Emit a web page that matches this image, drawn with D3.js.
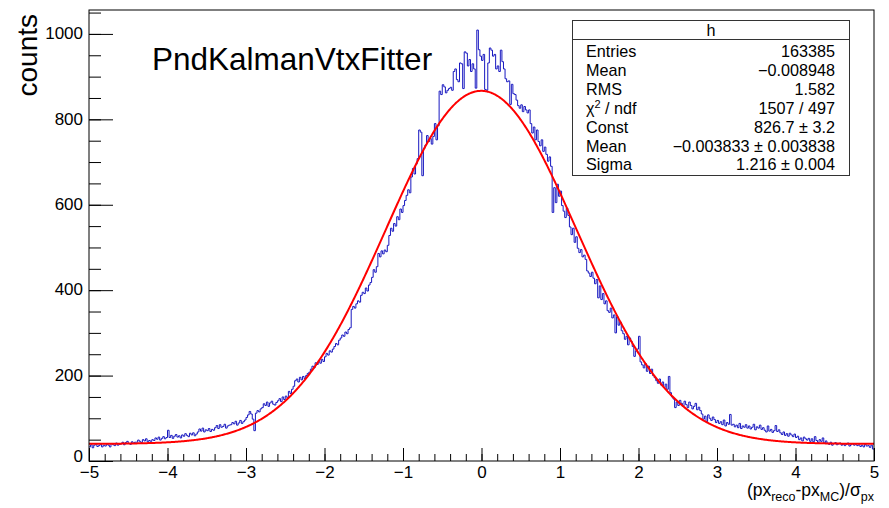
<!DOCTYPE html>
<html>
<head>
<meta charset="utf-8">
<script src="https://cdn.jsdelivr.net/npm/d3@7/dist/d3.min.js"></script>
<style>
  html, body { margin: 0; padding: 0; background: #fff; }
  svg { display: block; font-family: "Liberation Sans", Arial, Helvetica, sans-serif; }
</style>
</head>
<body>
<svg id="chart" width="889" height="508"></svg>
<script>
// Histogram "h": 500 bins from -5 to 5, one row per 0.2 in x
const xRange = [-5, 5];
const counts = [
  33, 38, 31, 37, 40, 34, 36, 39, 33, 37,      // -5.0
  35, 40, 37, 33, 41, 38, 36, 42, 37, 39,      // -4.8
  40, 44, 38, 43, 46, 41, 39, 45, 42, 44,      // -4.6
  44, 49, 46, 43, 50, 47, 52, 45, 48, 46,      // -4.4
  50, 48, 54, 51, 56, 49, 53, 57, 52, 55,      // -4.2
  72, 55, 60, 53, 58, 62, 56, 59, 54, 61,      // -4.0
  58, 64, 60, 57, 65, 61, 66, 59, 63, 68,      // -3.8
  75, 70, 77, 68, 73, 71, 76, 69, 74, 72,      // -3.6
  78, 83, 76, 85, 79, 81, 86, 77, 82, 84,      // -3.4
  85, 90, 87, 93, 84, 89, 95, 88, 92, 96,      // -3.2
  102, 108, 116, 110, 98, 71, 112, 118, 115, 122,   // -3.0
  125, 134, 130, 138, 128, 136, 140, 133, 131, 137, // -2.8
  141, 146, 139, 150, 144, 152, 148, 163, 158, 168, // -2.6
  175, 188, 192, 185, 196, 190, 198, 193, 200, 205, // -2.4
  208, 215, 222, 218, 230, 226, 235, 229, 238, 233, // -2.2
  244, 252, 248, 258, 255, 262, 268, 275, 272, 283, // -2.0
  288, 295, 292, 302, 298, 308, 312, 355, 362, 358, // -1.8
  368, 375, 372, 388, 395, 392, 405, 398, 412, 418, // -1.6
  430, 448, 442, 455, 486, 478, 492, 485, 494, 490, // -1.4
  505, 528, 545, 538, 556, 550, 572, 565, 590, 582, // -1.2
  598, 610, 622, 635, 628, 665, 685, 672, 695, 708, // -1.0
  775, 770, 668, 732, 740, 762, 748, 755, 742, 760, // -0.8
  790, 752, 785, 866, 858, 881, 876, 862, 868, 872, // -0.6
  875, 868, 912, 918, 893, 888, 932, 930, 872, 958, // -0.4
  955, 925, 940, 912, 930, 918, 873, 1009, 963, 948, // -0.2
  938, 952, 870, 868, 932, 967, 962, 948, 952, 918, //  0.0
  925, 912, 962, 935, 918, 895, 888, 890, 835, 882, //  0.2
  860, 858, 845, 832, 826, 834, 818, 830, 822, 815, //  0.4
  822, 790, 768, 782, 752, 775, 748, 738, 752, 725, //  0.6
  735, 718, 702, 712, 690, 582, 640, 605, 648, 620, //  0.8
  632, 598, 585, 570, 592, 575, 548, 530, 545, 512, //  1.0
  525, 498, 488, 495, 478, 482, 472, 445, 440, 432, //  1.2
  442, 428, 415, 425, 382, 410, 378, 392, 368, 375, //  1.4
  352, 348, 358, 335, 342, 300, 338, 318, 325, 305, //  1.6
  298, 285, 292, 272, 288, 280, 268, 245, 258, 262, //  1.8
  292, 232, 225, 218, 228, 210, 222, 205, 215, 200, //  2.0
  195, 188, 182, 192, 178, 185, 172, 180, 168, 198, //  2.2
  160, 150, 145, 125, 138, 130, 142, 135, 128, 140, //  2.4
  132, 125, 138, 130, 122, 128, 135, 120, 126, 118, //  2.6
  110, 98, 105, 92, 108, 100, 95, 103, 97, 90,      //  2.8
  95, 88, 92, 85, 96, 82, 90, 86, 109, 84,          //  3.0
  86, 80, 84, 78, 88, 76, 82, 79, 85, 77,           //  3.2
  82, 75, 79, 86, 73, 80, 77, 84, 74, 78,           //  3.4
  72, 68, 82, 70, 74, 67, 71, 83, 69, 73,           //  3.6
  66, 62, 68, 60, 64, 58, 65, 61, 57, 63,           //  3.8
  55, 58, 50, 54, 47, 56, 52, 49, 53, 46,           //  4.0
  52, 45, 57, 48, 43, 50, 46, 54, 42, 47,           //  4.2
  42, 39, 44, 37, 41, 43, 38, 40, 42, 37,           //  4.4
  40, 36, 39, 42, 35, 38, 41, 37, 39, 36,           //  4.6
  38, 34, 37, 33, 39, 35, 36, 32, 37, 28            //  4.8
];

// Gaussian fit result (plus flat background level)
const fitNames  = ["Const", "Mean", "Sigma"];
const fitValues = [826.7, -0.003833, 1.216];
const fitErrors = ["3.2", "0.003838", "0.004"];
const fitBackground = 40;

// Statistics box rows
const statLabels = ["Entries", "Mean", "RMS", "χ2 / ndf", "Const", "Mean", "Sigma"];
const statTexts  = ["163385", "−0.008948", "1.582", "1507 / 497",
                    "826.7 ± 3.2", "−0.003833 ± 0.003838", "1.216 ± 0.004"];

// Axis ticks
const xMajorTicks = d3.range(-5, 5.001, 1);
const xMinorTicks = d3.range(-5, 5.001, 0.2);
const yMajorTicks = [0, 200, 400, 600, 800, 1000];
const yMinorTicks = d3.range(0, 1051, 50);
const yMax = 1056;

const svg = d3.select("#chart");
const frame = { left: 89, right: 874, top: 10, bottom: 461 };

const x = d3.scaleLinear().domain(xRange).range([frame.left, frame.right]);
const y = d3.scaleLinear().domain([0, yMax]).range([frame.bottom, frame.top]);

// Histogram outline as a step line
const binWidth = (xRange[1] - xRange[0]) / counts.length;
const steps = counts.map((c, i) => [xRange[0] + i * binWidth, c]);
steps.push([xRange[1], counts[counts.length - 1]]);

svg.append("path")
  .datum(steps)
  .attr("fill", "none")
  .attr("stroke", "#1818c0")
  .attr("stroke-width", 1)
  .attr("d", d3.line().x(d => x(d[0])).y(d => y(d[1])).curve(d3.curveStepAfter));

// Fitted curve
const [fConst, fMean, fSigma] = fitValues;
const curvePts = d3.range(xRange[0], xRange[1] + 1e-9, 0.01).map(v =>
  [v, fConst * Math.exp(-0.5 * Math.pow((v - fMean) / fSigma, 2)) + fitBackground]);

svg.append("path")
  .datum(curvePts)
  .attr("fill", "none")
  .attr("stroke", "#ff0000")
  .attr("stroke-width", 2)
  .attr("d", d3.line().x(d => x(d[0])).y(d => y(d[1])));

// Axes (ticks pointing into the frame)
const fmt = d3.format("");
const gx = svg.append("g").attr("transform", `translate(0,${frame.bottom})`);
gx.call(d3.axisBottom(x).tickValues(xMinorTicks).tickSizeInner(-7).tickSizeOuter(0).tickFormat(""));
gx.call(g => g.select(".domain").remove());
const gx2 = svg.append("g").attr("transform", `translate(0,${frame.bottom})`);
gx2.call(d3.axisBottom(x).tickValues(xMajorTicks).tickSizeInner(-13).tickSizeOuter(0).tickPadding(5).tickFormat(fmt));
gx2.call(g => g.select(".domain").remove());

const gy = svg.append("g").attr("transform", `translate(${frame.left},0)`);
gy.call(d3.axisLeft(y).tickValues(yMinorTicks).tickSizeInner(-12).tickSizeOuter(0).tickFormat(""));
gy.call(g => g.select(".domain").remove());
const gy2 = svg.append("g").attr("transform", `translate(${frame.left},0)`);
gy2.call(d3.axisLeft(y).tickValues(yMajorTicks).tickSizeInner(-24).tickSizeOuter(0).tickPadding(6).tickFormat(fmt));
gy2.call(g => g.select(".domain").remove());
// the zero label sits a little higher so it clears the x labels
gy2.selectAll(".tick text").attr("dy", d => d === 0 ? "0.05em" : "0.28em");

svg.selectAll(".tick line").attr("stroke", "#000").attr("stroke-width", 1);
svg.selectAll(".tick text")
  .attr("font-family", "'Liberation Sans', Arial, Helvetica, sans-serif")
  .attr("font-size", 17).attr("fill", "#000");

// Frame
svg.append("rect")
  .attr("x", frame.left).attr("y", frame.top)
  .attr("width", frame.right - frame.left).attr("height", frame.bottom - frame.top)
  .attr("fill", "none").attr("stroke", "#000").attr("stroke-width", 1);

// Axis titles
svg.append("text")
  .attr("transform", "translate(37,14) rotate(-90)")
  .attr("text-anchor", "end")
  .attr("font-size", 28)
  .text("counts");

const xt = svg.append("text")
  .attr("x", frame.right).attr("y", 496)
  .attr("text-anchor", "end")
  .attr("font-size", 17.5);
xt.append("tspan").text("(px");
xt.append("tspan").attr("font-size", 12.5).attr("dy", 5).text("reco");
xt.append("tspan").attr("dy", -5).text("-px");
xt.append("tspan").attr("font-size", 12.5).attr("dy", 5).text("MC");
xt.append("tspan").attr("dy", -5).text(")/σ");
xt.append("tspan").attr("font-size", 12.5).attr("dy", 5).text("px");

// Title
svg.append("text")
  .attr("x", 152).attr("y", 70)
  .attr("font-size", 31.5)
  .text("PndKalmanVtxFitter");

// Statistics box
const box = { x: 572.5, y: 20.5, w: 277, h: 155, head: 19 };
const statFont = 16.2;
const sb = svg.append("g");
sb.append("rect")
  .attr("x", box.x).attr("y", box.y).attr("width", box.w).attr("height", box.h)
  .attr("fill", "#fff").attr("stroke", "#333").attr("stroke-width", 1);
sb.append("line")
  .attr("x1", box.x).attr("x2", box.x + box.w)
  .attr("y1", box.y + box.head).attr("y2", box.y + box.head)
  .attr("stroke", "#333").attr("stroke-width", 1);
sb.append("text")
  .attr("x", box.x + box.w / 2).attr("y", box.y + 15.5)
  .attr("text-anchor", "middle").attr("font-size", statFont).text("h");

const rowH = 18.9;
statLabels.forEach((lab, i) => {
  const yy = 57 + i * rowH;
  const t = sb.append("text").attr("x", 586).attr("y", yy).attr("font-size", statFont);
  if (lab === "χ2 / ndf") {
    t.append("tspan").text("χ");
    t.append("tspan").attr("font-size", 11).attr("dy", -6).text("2");
    t.append("tspan").attr("dy", 6).text(" / ndf");
  } else {
    t.text(lab);
  }
  sb.append("text").attr("x", 835).attr("y", yy)
    .attr("text-anchor", "end").attr("font-size", statFont).text(statTexts[i]);
});
</script>
</body>
</html>
